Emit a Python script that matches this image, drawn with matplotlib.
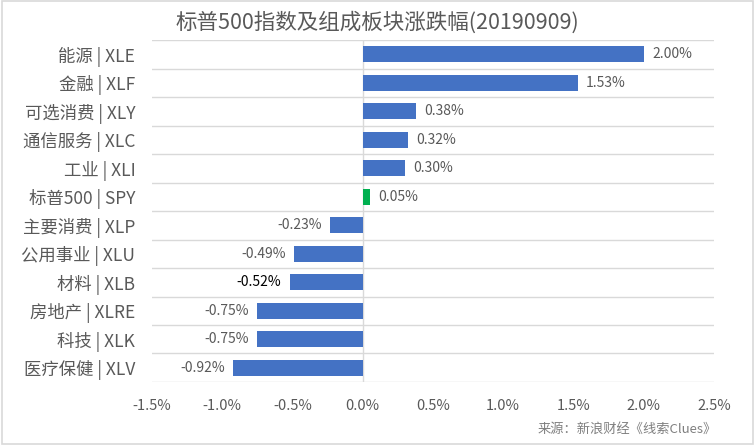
import numpy as np
import matplotlib.pyplot as plt

plt.rcParams['font.family'] = ['Noto Sans CJK SC', 'DejaVu Sans']

# Categories top to bottom and change in percent
categories = ['能源 | XLE', '金融 | XLF', '可选消费 | XLY', '通信服务 | XLC',
              '工业 | XLI', '标普500 | SPY', '主要消费 | XLP', '公用事业 | XLU',
              '材料 | XLB', '房地产 | XLRE', '科技 | XLK', '医疗保健 | XLV']
values = [2.00, 1.53, 0.38, 0.32, 0.30, 0.05, -0.23, -0.49, -0.52, -0.75,
          -0.75, -0.92]
xticks = [-1.5, -1.0, -0.5, 0.0, 0.5, 1.0, 1.5, 2.0, 2.5]

grey = '#595959'
blue = '#4472C4'
green = '#00B050'

fig = plt.figure(figsize=(7.55, 4.45), dpi=100)
ax = fig.add_axes([0.2013, 0.1416, 0.7444, 0.7684])

y = np.arange(len(categories))
colors = [green if 'SPY' in c else blue for c in categories]
ax.barh(y, values, height=0.56, color=colors, zorder=3)

for yi, v, c in zip(y, values, categories):
    txt_color = 'black' if 'XLB' in c else grey
    if v >= 0:
        ax.text(v + 0.06, yi, f'{v:.2f}%', va='center', ha='left',
                fontsize=10, color=txt_color)
    else:
        ax.text(v - 0.06, yi, f'{v:.2f}%', va='center', ha='right',
                fontsize=10, color=txt_color)

ax.set_xlim(-1.5, 2.5)
ax.set_ylim(len(categories) - 0.5, -0.5)
ax.set_yticks(y)
ax.set_yticklabels(categories, fontsize=12.5, color=grey)
ax.set_xticks(xticks)
ax.set_xticklabels([f'{t:.1f}%' for t in xticks], fontsize=10.5, color=grey)
ax.tick_params(axis='both', length=0)
ax.tick_params(axis='x', pad=12)
ax.tick_params(axis='y', pad=12)

# horizontal separators between categories
for b in np.arange(-0.5, len(categories), 1.0):
    ax.axhline(b, color='#D9D9D9', linewidth=1, zorder=1)
ax.axvline(0, color='#D9D9D9', linewidth=1, zorder=2)

for s in ax.spines.values():
    s.set_visible(False)

fig.text(0.5, 0.95, '标普500指数及组成板块涨跌幅(20190909)', ha='center',
         va='center', fontsize=15.5, color=grey)
fig.text(0.95, 0.035, '来源：新浪财经《线索Clues》', ha='right', va='center',
         fontsize=9.5, color='#7F7F7F')

fig.patches.append(plt.Rectangle((0.002, 0.003), 0.996, 0.994,
                                 transform=fig.transFigure, fill=False,
                                 edgecolor='#D9D9D9', linewidth=1.2))

fig.savefig('out.png', dpi=100)
